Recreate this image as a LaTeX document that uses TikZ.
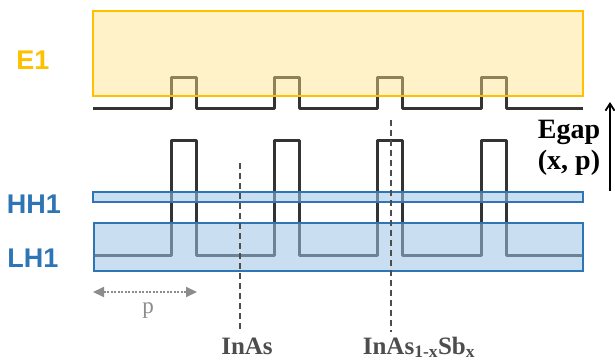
\documentclass[tikz,border=0pt]{standalone}
\usepackage{fontspec}
\setmainfont{Liberation Serif}
\setsansfont{Liberation Sans}
\usetikzlibrary{arrows.meta}
\definecolor{bandline}{HTML}{333333}
\definecolor{eyellow}{HTML}{FFE385}
\definecolor{egold}{HTML}{FFC000}
\definecolor{hblue}{HTML}{9DC3E6}
\definecolor{hborder}{HTML}{2E75B6}
\definecolor{labelgray}{HTML}{4D4D4D}
\definecolor{pgray}{HTML}{8C8C8C}

\begin{document}
\begin{tikzpicture}[x=1pt, y=-1pt,
    band/.style={bandline, line width=3pt, line join=round},
    levelbox/.style={line width=2pt, fill opacity=0.55},
    bandname/.style={font=\sffamily\bfseries\fontsize{27}{27}\selectfont},
    matname/.style={labelgray, font=\bfseries\fontsize{25}{25}\selectfont, anchor=base},
    cut/.style={labelgray, line width=1.3pt, dash pattern=on 6pt off 4pt}]
    \useasboundingbox (0,0) rectangle (615,362);

    % Conduction band edge
    \draw[band] (93,108) foreach \l in {171,274,377,481} {-- (\l,108) -- (\l,77) -- (\l+25,77) -- (\l+25,108)} -- (583,108);

    % Valence band edge
    \draw[band] (94,255) foreach \l in {171,274,377,481} {-- (\l,255) -- (\l,140) -- (\l+25,140) -- (\l+25,255)} -- (583,255);

    % Minibands
    \draw[levelbox, egold, fill=eyellow, fill opacity=0.45] (93,11) rectangle (583,96);
    \draw[levelbox, hborder, fill=hblue] (93,192) rectangle (583,202);
    \draw[levelbox, hborder, fill=hblue] (94,223) rectangle (583,271);
    \node[bandname, egold] (e1) at (33,60) {E1};
    \node[bandname, hborder] (hh1) at (34,204) {HH1};
    \node[bandname, hborder] (lh1) at (33,258) {LH1};

    % Period
    \coordinate (pl) at (93,292);
    \coordinate (pr) at (197,292);
    \draw[pgray, line width=2pt, dash pattern=on 2pt off 1.5pt, {Triangle[length=11pt,width=10pt]}-{Triangle[length=11pt,width=10pt]}] (pl) -- (pr);
    \node[pgray, font=\fontsize{23}{23}\selectfont, anchor=base] (p) at (148,313) {p};

    % Layers
    \node[matname] (inas) at (247,354) {InAs};
    \node[matname] (inassb) at (419,354) {InAs\textsubscript{1-x}Sb\textsubscript{x}};
    \coordinate (inastop) at (240,163);
    \coordinate (inassbtop) at (391,120);
    \draw[cut] (inastop) -- (inastop |- 0,332);
    \draw[cut] (inassbtop) -- (inassbtop |- 0,332);

    % Gap
    \coordinate (gb) at (610,191);
    \coordinate (gt) at (610,102);
    \draw[line width=1.8pt, -{Straight Barb[length=7pt,width=9pt]}] (gb) -- (gt);
    \node[font=\bfseries\fontsize{28}{31}\selectfont, align=center] (egap) at (569,148) {Egap\\(x, p)};
\end{tikzpicture}
\end{document}
